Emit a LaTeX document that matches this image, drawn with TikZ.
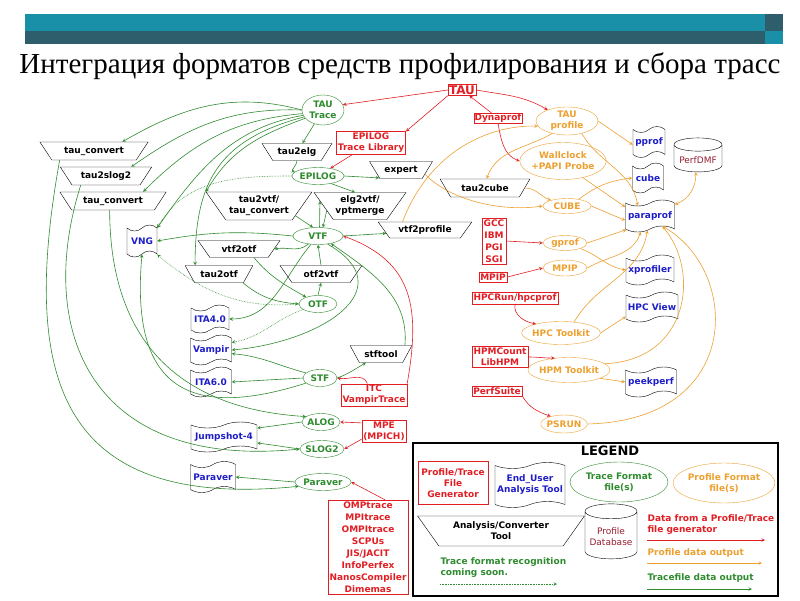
\documentclass[tikz,border=0pt]{standalone}
\usepackage{fontspec}
\setsansfont{DejaVu Sans}
\newfontfamily\titlefont{Liberation Serif}
\usetikzlibrary{shapes.geometric,shapes.symbols,arrows}
\definecolor{trgreen}{RGB}{46,139,46}
\definecolor{prorange}{RGB}{236,160,48}
\definecolor{genred}{RGB}{225,30,35}
\definecolor{toolblue}{RGB}{30,30,200}
\definecolor{dbred}{RGB}{150,30,50}
\definecolor{barlight}{RGB}{26,143,168}
\definecolor{bardark}{RGB}{46,94,108}
\begin{document}
\begin{tikzpicture}[>=stealth, x=1pt, y=1pt,
  every node/.style={font=\sffamily\bfseries\fontsize{9}{11}\selectfont, align=center},
  gen/.style={draw=genred, text=genred, rectangle, inner sep=1.5pt},
  trc/.style={draw=trgreen, text=trgreen, ellipse, inner sep=-1pt},
  prf/.style={draw=prorange, text=prorange, ellipse, inner sep=-1pt},
  tool/.style={draw, trapezium, shape border rotate=180, trapezium angle=50, trapezium stretches=true, inner sep=1pt},
  gui/.style={draw, tape, text=toolblue, inner sep=1pt, tape bend height=6pt},
  db/.style={draw, cylinder, shape border rotate=90, aspect=0.3, text=dbred, font=\sffamily\fontsize{9}{11}\selectfont},
  rd/.style={->, genred, line width=0.6pt},
  gr/.style={->, trgreen, line width=0.6pt},
  grd/.style={->, trgreen, line width=0.6pt, densely dotted},
  og/.style={->, prorange, line width=0.6pt}]
\useasboundingbox (0,0) rectangle (800,-600);

\fill[barlight] (25,-14) rectangle (765,-31);
\fill[bardark] (25,-31) rectangle (765,-44);
\fill[bardark] (765,-14) rectangle (783,-31);
\fill[barlight] (765,-31) rectangle (783,-44);
\node[font=\titlefont\fontsize{29}{32}\selectfont] (title) at (400,-66) {Интеграция форматов средств профилирования и сбора трасс};

% generators
\node[gen, inner sep=1pt, font=\sffamily\bfseries\fontsize{12}{14}\selectfont] (tau) at (462,-90) {TAU};
\node[gen] (elglib) at (371,-143) {EPILOG\\Trace Library};
\node[gen, inner sep=0.5pt] (dynaprof) at (498,-118) {Dynaprof};
\node[gen, font=\sffamily\bfseries\fontsize{9}{12}\selectfont] (gcc) at (494,-241) {GCC\\IBM\\PGI\\SGI};
\node[gen] (mpipgen) at (493,-277) {MPIP};
\node[gen] (hpcrun) at (515,-298) {HPCRun/hpcprof};
\node[gen] (hpmcount) at (500,-357) {HPMCount\\LibHPM};
\node[gen] (perfsuite) at (497,-391) {PerfSuite};
\node[gen] (itc) at (374,-395) {ITC\\VampirTrace};
\node[gen] (mpe) at (384,-431) {MPE\\(MPICH)};
\node[gen, font=\sffamily\bfseries\fontsize{9}{12}\selectfont] (omp) at (368,-547) {OMPtrace\\MPItrace\\OMPItrace\\SCPUs\\JIS/JACIT\\InfoPerfex\\NanosCompiler\\Dimemas};

% trace formats
\node[trc, minimum width=42pt, minimum height=30pt] (tautrace) at (323,-110) {TAU\\Trace};
\node[trc, minimum width=52pt, minimum height=17pt] (epilog) at (318,-176) {EPILOG};
\node[trc, minimum width=50pt, minimum height=17pt] (vtf) at (318,-236) {VTF};
\node[trc, minimum width=38pt, minimum height=17pt] (otf) at (318,-304) {OTF};
\node[trc, minimum width=34pt, minimum height=17pt] (stf) at (320,-378) {STF};
\node[trc, minimum width=38pt, minimum height=17pt] (alog) at (321,-422) {ALOG};
\node[trc, minimum width=40pt, minimum height=17pt] (slog) at (322,-449) {SLOG2};
\node[trc, minimum width=56pt, minimum height=17pt] (prvfmt) at (323,-482) {Paraver};

% profile formats
\node[prf, minimum width=62pt, minimum height=28pt] (tauprof) at (567,-121) {TAU\\profile};
\node[prf, minimum width=84pt, minimum height=37pt] (wallclock) at (563,-161) {Wallclock\\+PAPI Probe};
\node[prf, minimum width=48pt, minimum height=15pt] (cubefmt) at (567,-206) {CUBE};
\node[prf, minimum width=44pt, minimum height=15pt] (gprof) at (565,-243) {gprof};
\node[prf, minimum width=44pt, minimum height=16pt] (mpipfmt) at (565,-268) {MPIP};
\node[prf, minimum width=67pt, minimum height=23pt] (hpctk) at (561,-333) {HPC Toolkit};
\node[prf, minimum width=68pt, minimum height=25pt] (hpmtk) at (569,-370) {HPM Toolkit};
\node[prf, minimum width=42pt, minimum height=18pt] (psrun) at (564,-424) {PSRUN};

% analysis / converter tools
\node[tool, minimum width=109pt, minimum height=18pt] (tauconva) at (94,-151) {tau\_convert};
\node[tool, minimum width=92pt, minimum height=18pt] (tauslog) at (106,-176) {tau2slog2};
\node[tool, minimum width=107pt, minimum height=18pt] (tauconvb) at (113,-201) {tau\_convert};
\node[tool, minimum width=70pt, minimum height=17pt] (tauelg) at (297,-152) {tau2elg};
\node[tool, minimum width=63pt, minimum height=17pt] (expert) at (401,-170) {expert};
\node[tool, minimum width=90pt, minimum height=18pt] (taucube) at (485,-188) {tau2cube};
\node[tool, minimum width=106pt, minimum height=28pt] (tauvtf) at (259,-206) {tau2vtf/\\tau\_convert};
\node[tool, minimum width=92pt, minimum height=27pt] (elgvtf) at (360,-206) {elg2vtf/\\vptmerge};
\node[tool, minimum width=94pt, minimum height=16pt] (vtfprof) at (425,-230) {vtf2profile};
\node[tool, minimum width=82pt, minimum height=17pt] (vtfotf) at (239,-249) {vtf2otf};
\node[tool, minimum width=68pt, minimum height=17pt] (tauotf) at (219,-274) {tau2otf};
\node[tool, minimum width=82pt, minimum height=17pt] (otfvtf) at (321,-274) {otf2vtf};
\node[tool, minimum width=62pt, minimum height=17pt] (stftool) at (381,-354) {stftool};

% end user tools
\node[gui, minimum width=32pt, minimum height=31pt] (pprof) at (649,-142) {pprof};
\node[gui, minimum width=31pt, minimum height=30pt] (cube) at (648,-178) {cube};
\node[gui, minimum width=49pt, minimum height=32pt] (paraprof) at (650,-216) {paraprof};
\node[db, minimum width=48pt, minimum height=34pt] (perfdmf) at (698,-160) {PerfDMF};
\node[gui, minimum width=48pt, minimum height=30pt] (xprof) at (650,-270) {xprofiler};
\node[gui, minimum width=52pt, minimum height=30pt] (hpcview) at (652,-307) {HPC View};
\node[gui, minimum width=51pt, minimum height=30pt] (peekperf) at (651,-382) {peekperf};
\node[gui, minimum width=30pt, minimum height=32pt] (vng) at (142,-241) {VNG};
\node[gui, minimum width=38pt, minimum height=28pt] (ita4) at (210,-319) {ITA4.0};
\node[gui, minimum width=41pt, minimum height=30pt] (vampir) at (211,-350) {Vampir};
\node[gui, minimum width=41pt, minimum height=30pt] (ita6) at (211,-382) {ITA6.0};
\node[gui, minimum width=66pt, minimum height=30pt] (jump) at (224,-437) {Jumpshot-4};
\node[gui, minimum width=45pt, minimum height=31pt] (prvtool) at (213,-477) {Paraver};

% generator data
\draw[rd] (tau.west) -- (tautrace.15);
\draw[rd] (tau.south west) -- (elglib.north east);
\draw[rd] (tau.east) to[out=-10,in=150] (tauprof.150);
\draw[rd] (dynaprof) -- (tau);
\draw[rd] (dynaprof.south) to[out=-80,in=160] (wallclock.west);
\draw[rd] (elglib) -- (epilog);
\draw[rd] (gcc.east) -- (gprof.west);
\draw[rd] (mpipgen.east) -- (mpipfmt.west);
\draw[rd] (hpcrun.south) to[out=-100,in=170] (hpctk.160);
\draw[rd] (hpmcount.east) to[out=0,in=180] (hpmtk.140);
\draw[rd] (perfsuite.south east) to[out=-60,in=160] (psrun.150);
\draw[rd] (itc.120) to[out=110,in=-10] (stf.east);
\draw[rd] (itc.north east) to[out=80,in=-20,looseness=1.2] (vtf.east);
\draw[rd] (mpe.160) -- (alog.east);
\draw[rd] (mpe.200) -- (slog.east);
\draw[rd] (omp.70) -- (prvfmt.east);

% trace data
\draw[gr] (tautrace.west) to[out=165,in=30] (tauconva.18);
\draw[gr] (tautrace.west) to[out=178,in=35] (tauslog.20);
\draw[gr] (tautrace.190) to[out=185,in=45] (tauconvb.17);
\draw[gr] (tautrace.195) to[out=190,in=55] (vng.north east);
\draw[gr] (tautrace.200) to[out=195,in=90,looseness=1.2] (tauotf.160);
\draw[gr] (tautrace.205) to[out=200,in=60] (tauvtf.165);
\draw[gr] (tautrace) -- (tauelg);
\draw[gr] (tauelg.south) to[out=-90,in=160] (epilog.170);
\draw[gr] (epilog.east) -- (expert.200);
\draw[gr] (epilog.-30) -- (elgvtf.110);
\draw[grd] (epilog.west) to[out=180,in=60] (vng.north east);
\draw[gr] (tauvtf.-15) -- (vtf.120);
\draw[gr] (vtf.80) -- (elgvtf.173);
\draw[gr] (elgvtf.188) -- (vtf.60);
\draw[gr] (vtf.east) -- (vtfprof.185);
\draw[gr] (vtf.220) to[out=220,in=10] (vtfotf.east);
\draw[gr] (vtf.west) to[bend right=8] (vng.east);
\draw[gr] (otfvtf.north) -- (vtf.south);
\draw[gr] (otf.north) -- (otfvtf.south);
\draw[gr] (tauotf.-20) to[out=-40,in=175] (otf.west);
\draw[gr] (vtfotf.-30) to[out=-50,in=150] (otf.150);
\draw[grd] (otf.west) to[out=185,in=-40] (vng.south east);
\draw[grd] (otf.200) to[out=200,in=10] (vampir.20);
\draw[gr] (vtf.230) to[out=-130,in=0] (ita4.east);
\draw[gr] (vtf.-40) to[out=-30,in=5,looseness=1.6] (vampir.east);
\draw[gr] (stf.160) to[out=165,in=-5] (vampir.-10);
\draw[gr] (stf.west) -- (ita6.east);
\draw[gr] (stf.200) .. controls (190,-420) and (130,-390) .. (vng.south);
\draw[gr] (stf.east) to[out=20,in=-150] (stftool.-150);
\draw[gr] (stftool.20) to[out=85,in=-35] (vtf.-30);
\draw[gr] (alog.west) -- (jump.15);
\draw[gr] (slog.west) -- (jump.-10);
\draw[gr] (prvfmt.west) -- (prvtool.east);
\draw[gr] (tauconva.-165) .. controls (20,-380) and (60,-510) .. (prvfmt.190);
\draw[gr] (tauslog.-160) .. controls (35,-330) and (90,-470) .. (slog.west);
\draw[gr] (tauconvb.-110) .. controls (110,-360) and (200,-410) .. (alog.160);

% profile data
\draw[og] (tauprof.east) -- (pprof.190);
\draw[og] (tauprof.-40) to[out=-60,in=100] (paraprof.150);
\draw[og] (tauprof.-140) to[out=-150,in=70] (taucube.80);
\draw[og] (taucube.east) to[out=0,in=160] (cubefmt.160);
\draw[og] (expert.-10) .. controls (450,-200) and (500,-212) .. (cubefmt.west);
\draw[og] (vtfprof.160) .. controls (430,-150) and (490,-125) .. (tauprof.190);
\draw[og] (wallclock.-40) -- (paraprof.160);
\draw[og] (cubefmt.30) to[bend left=15] (cube.west);
\draw[og] (cubefmt.east) -- (paraprof.190);
\draw[og] (gprof.east) -- (paraprof.-150);
\draw[og] (gprof.-20) to[out=-20,in=170] (xprof.west);
\draw[og] (mpipfmt.east) to[out=30,in=-110] (paraprof.-120);
\draw[og] (hpctk.40) to[out=60,in=-100] (paraprof.-100);
\draw[og] (hpctk.east) -- (hpcview.200);
\draw[og] (hpmtk.-15) -- (peekperf.180);
\draw[og] (hpmtk.10) .. controls (690,-360) and (700,-270) .. (paraprof.-60);
\draw[og] (psrun.east) .. controls (745,-420) and (740,-270) .. (paraprof.-40);
\draw[og, <->] (paraprof.25) to[out=20,in=-90] (perfdmf.-100);

% legend
\draw[line width=1.2pt] (413,-443) rectangle (778,-596);
\node[font=\sffamily\bfseries\fontsize{13}{15}\selectfont] (legtitle) at (610,-451) {LEGEND};
\node[gen, minimum width=70pt, minimum height=43pt] (leggen) at (453,-483) {Profile/Trace\\File\\Generator};
\node[gui, minimum width=70pt, minimum height=45pt] (leggui) at (530,-485) {End\_User\\Analysis Tool};
\node[trc, minimum width=98pt, minimum height=40pt] (legtrc) at (619,-482) {Trace Format\\file(s)};
\node[prf, minimum width=102pt, minimum height=40pt] (legprf) at (724,-483) {Profile Format\\file(s)};
\node[tool, minimum width=167pt, minimum height=30pt] (legtool) at (501,-531) {Analysis/Converter\\Tool};
\node[db, minimum width=52pt, minimum height=55pt] (legdb) at (611,-537) {Profile\\Database};
\node[anchor=west, text=genred, align=left] (legred) at (644,-525) {Data from a Profile/Trace\\file generator};
\node[anchor=west, text=prorange] (legorg) at (644,-553) {Profile data output};
\node[anchor=west, text=trgreen] (leggrn) at (644,-578) {Tracefile data output};
\node[anchor=west, text=trgreen, align=left] (legdot) at (437,-568) {Trace format recognition\\coming soon.};
\coordinate (ra) at (647,-540); \coordinate (rb) at (765,-540);
\coordinate (oa) at (647,-563); \coordinate (ob) at (762,-563);
\coordinate (ga) at (647,-589); \coordinate (gb) at (752,-589);
\coordinate (da) at (440,-584); \coordinate (db) at (557,-584);
\draw[rd] (ra) -- (rb);
\draw[og] (oa) -- (ob);
\draw[gr] (ga) -- (gb);
\draw[grd] (da) -- (db);
\end{tikzpicture}
\end{document}
